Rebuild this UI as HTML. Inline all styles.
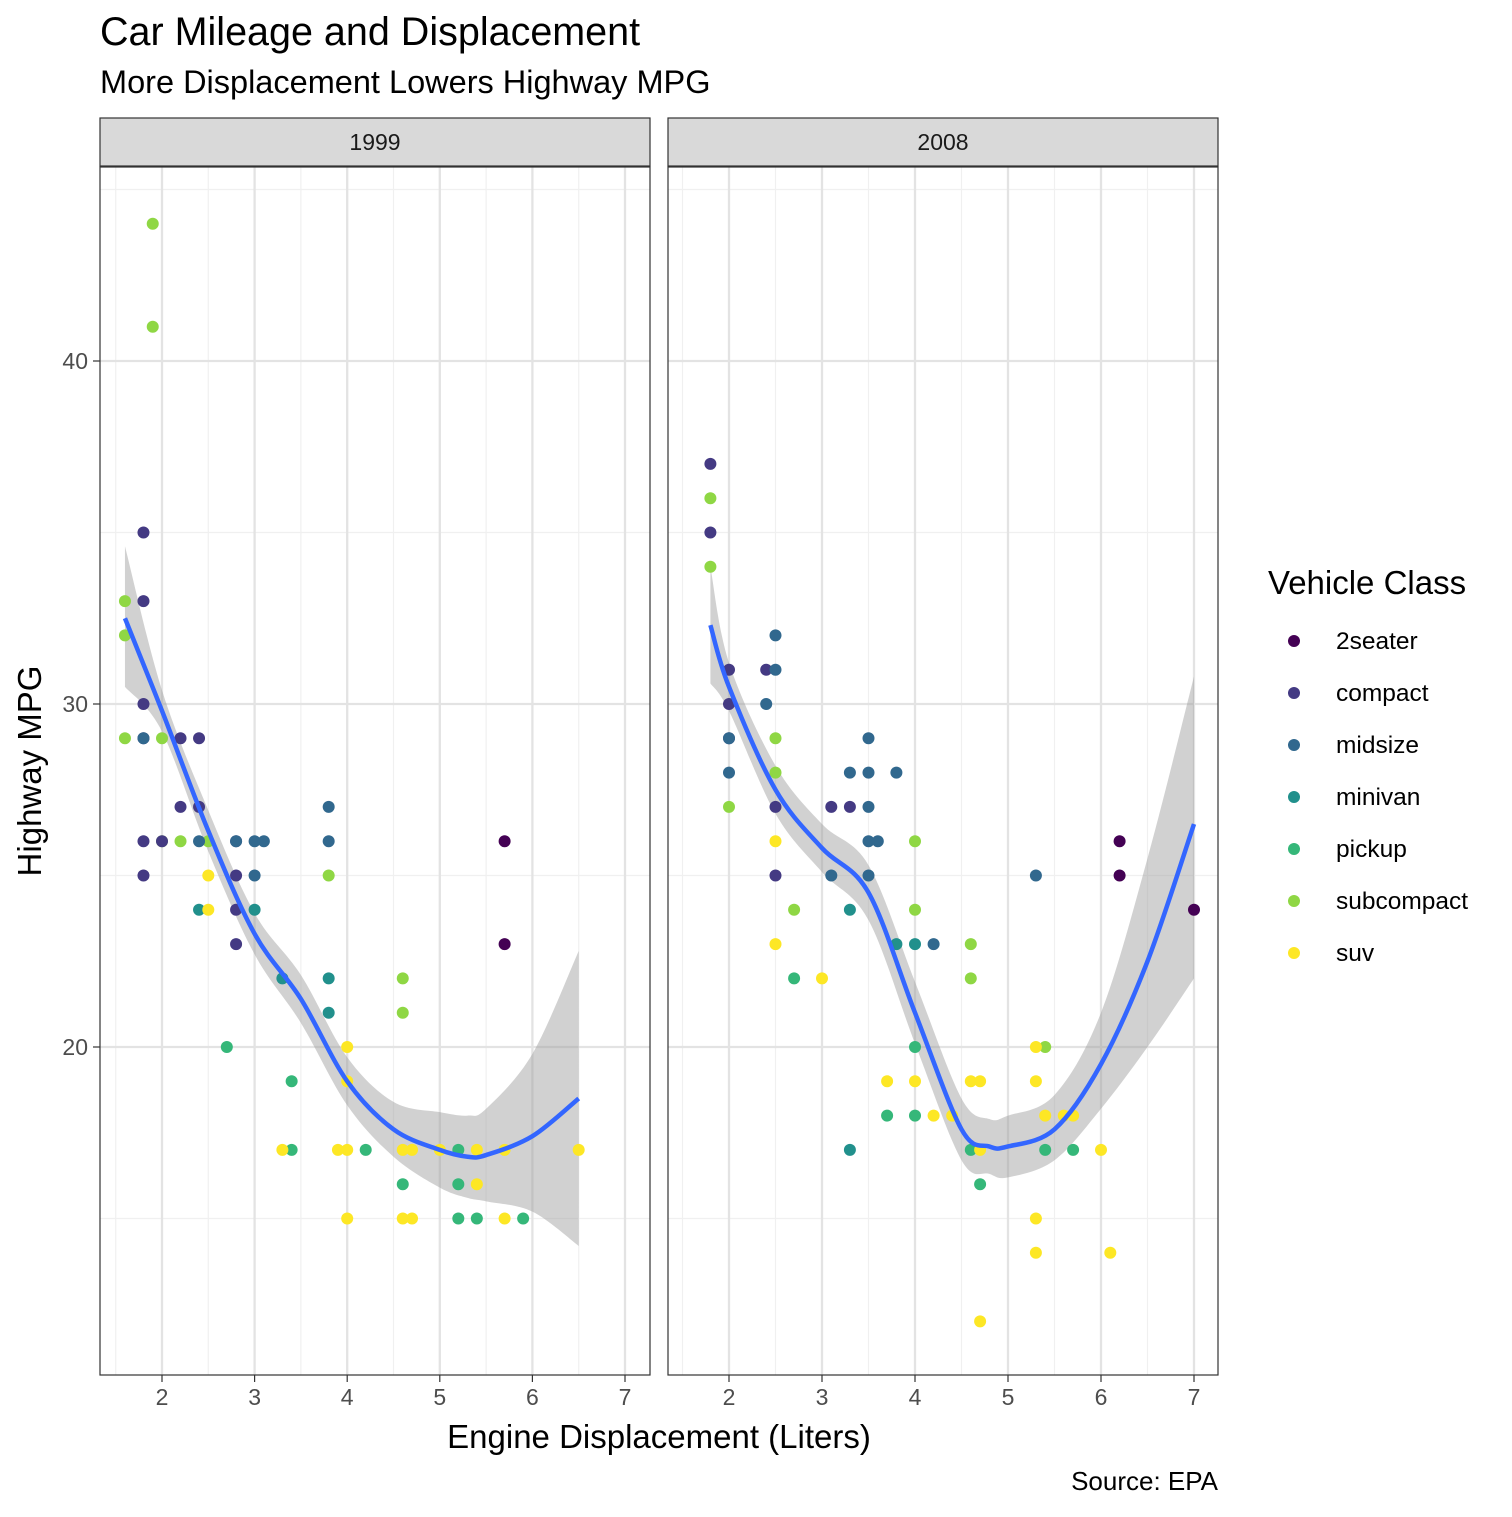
<!DOCTYPE html>
<html><head><meta charset="utf-8"><style>
body{margin:0;background:#fff;}
svg text{font-family:"Liberation Sans",Arial,sans-serif;}
</style></head><body>
<svg id="c" width="1512" height="1512" xmlns="http://www.w3.org/2000/svg">
<rect width="1512" height="1512" fill="#fff"/>
<text x="100" y="45" font-size="39.5" fill="#000">Car Mileage and Displacement</text>
<text x="100" y="93" font-size="32.5" fill="#000">More Displacement Lowers Highway MPG</text>
<text x="659" y="1448" font-size="33" text-anchor="middle">Engine Displacement (Liters)</text>
<text transform="translate(41,771) rotate(-90)" font-size="33" text-anchor="middle">Highway MPG</text>
<text x="1218" y="1490" font-size="26" text-anchor="end">Source: EPA</text>
<g id="g"></g>
</svg>
<script>
const classes=["2seater","compact","midsize","minivan","pickup","subcompact","suv"];
const colors=["#440154","#443A83","#31688E","#21908C","#35B779","#8FD744","#FDE725"];
const years=["1999","2008"];
const xTicks=[2,3,4,5,6,7];
const yTicks=[20,30,40];
// points [displ, hwy, classIndex]
const pts1999=[[1.6,33,5],[1.6,32,5],[1.6,29,5],[1.9,44,5],[1.9,41,5],[2.0,29,5],[2.0,26,5],[2.2,26,5],[2.5,26,5],[3.8,25,5],[4.6,22,5],[4.6,21,5],
[1.8,35,1],[1.8,33,1],[1.8,30,1],[1.8,29,1],[1.8,26,1],[1.8,25,1],[2.2,29,1],[2.4,29,1],[2.2,27,1],[2.4,27,1],[2.8,25,1],[2.8,24,1],[2.8,23,1],[2.8,26,1],[2.0,26,1],
[1.8,29,2],[2.4,26,2],[2.8,26,2],[3.0,26,2],[3.1,26,2],[3.0,25,2],[3.8,27,2],[3.8,26,2],
[2.4,24,3],[3.0,24,3],[3.3,22,3],[3.8,22,3],[3.8,21,3],
[2.7,20,4],[3.4,19,4],[3.4,17,4],[4.2,17,4],[4.6,16,4],[5.2,15,4],[5.4,15,4],[5.9,15,4],[5.2,17,4],[5.2,16,4],
[2.5,25,6],[2.5,24,6],[3.3,17,6],[3.9,17,6],[4.0,17,6],[4.0,20,6],[4.0,19,6],[4.0,15,6],[4.6,17,6],[4.6,15,6],[4.7,15,6],[4.7,17,6],[5.0,17,6],[5.4,17,6],[5.4,16,6],[5.7,17,6],[5.7,15,6],[6.5,17,6],
[5.7,26,0],[5.7,23,0]];
const pts2008=[[1.8,37,1],[1.8,35,1],[2.0,31,1],[2.0,30,1],[2.0,29,1],[2.4,31,1],[2.5,27,1],[2.5,25,1],[3.1,27,1],[3.3,27,1],
[1.8,36,5],[1.8,34,5],[2.0,27,5],[2.5,29,5],[2.5,28,5],[2.7,24,5],[4.0,26,5],[4.0,24,5],[4.6,23,5],[4.6,22,5],[5.4,20,5],
[2.0,29,2],[2.0,28,2],[2.4,30,2],[2.5,32,2],[2.5,31,2],[3.3,28,2],[3.5,29,2],[3.5,28,2],[3.5,27,2],[3.5,26,2],[3.6,26,2],[3.8,28,2],[3.5,25,2],[4.2,23,2],[5.3,25,2],[3.1,25,2],
[3.3,24,3],[3.3,17,3],[3.8,23,3],[4.0,23,3],
[2.7,22,4],[3.7,18,4],[4.0,18,4],[4.0,20,4],[4.7,16,4],[4.6,17,4],[5.4,17,4],[5.7,17,4],
[2.5,26,6],[2.5,23,6],[3.0,22,6],[3.7,19,6],[4.0,19,6],[4.2,18,6],[4.4,18,6],[4.6,19,6],[4.7,19,6],[4.7,17,6],[4.7,12,6],[5.3,20,6],[5.3,19,6],[5.3,15,6],[5.3,14,6],[5.4,18,6],[5.6,18,6],[5.7,18,6],[6.0,17,6],[6.1,14,6],
[6.2,26,0],[6.2,25,0],[7.0,24,0]];
const fitX1999=[1.6,2.0,2.5,3.0,3.5,4.0,4.5,5.0,5.3,5.5,6.0,6.5];
const fitY1999=[32.5,29.8,26.3,23.3,21.4,19.0,17.6,17.0,16.8,16.85,17.4,18.5];
const fitLo1999=[30.5,29.2,25.7,22.7,20.7,18.3,16.8,15.9,15.6,15.5,15.2,14.2];
const fitHi1999=[34.6,30.4,26.9,23.9,22.1,19.7,18.4,18.1,18.0,18.2,19.8,22.8];
const fitX2008=[1.8,2.0,2.5,3.0,3.5,4.0,4.5,4.8,5.0,5.5,6.0,6.5,7.0];
const fitY2008=[32.3,30.5,27.5,25.8,24.5,21.0,17.6,17.1,17.1,17.6,19.5,22.5,26.5];
const fitLo2008=[30.6,29.8,26.8,25.1,23.7,20.1,16.7,16.3,16.2,16.7,18.2,20.0,22.0];
const fitHi2008=[34.0,31.2,28.2,26.5,25.3,21.9,18.5,17.9,18.0,18.6,21.0,25.5,30.8];

const NS="http://www.w3.org/2000/svg";
const g=document.getElementById('g');
function el(t,a,p){const e=document.createElementNS(NS,t);for(const k in a)e.setAttribute(k,a[k]);(p||g).appendChild(e);return e;}
function smooth(P,move){
  let d=(move?'M':'L')+P[0][0]+','+P[0][1];
  for(let i=0;i<P.length-1;i++){
    const p0=P[Math.max(0,i-1)],p1=P[i],p2=P[i+1],p3=P[Math.min(P.length-1,i+2)];
    const c1=[p1[0]+(p2[0]-p0[0])/6,p1[1]+(p2[1]-p0[1])/6];
    const c2=[p2[0]-(p3[0]-p1[0])/6,p2[1]-(p3[1]-p1[1])/6];
    d+='C'+c1[0]+','+c1[1]+' '+c2[0]+','+c2[1]+' '+p2[0]+','+p2[1];
  }
  return d;
}
const yTop=167,yBot=1375;
const yS=v=>704-(v-30)*34.3;
const panels=[{x0:100,x1:650,ox:162,pts:pts1999,fx:fitX1999,fy:fitY1999,lo:fitLo1999,hi:fitHi1999,k:92.6},
{x0:668,x1:1218,ox:729,pts:pts2008,fx:fitX2008,fy:fitY2008,lo:fitLo2008,hi:fitHi2008,k:93}];
panels.forEach((p,i)=>{
  const xS=v=>p.ox+(v-2)*p.k;
  const pg=el('g',{});
  
  
  const st=el('rect',{x:p.x0,y:118,width:p.x1-p.x0,height:48,fill:'#d9d9d9',stroke:'#333','stroke-width':1.2},pg);
  
  
  const sl=el('text',{x:(p.x0+p.x1)/2,y:150,'font-size':23,'text-anchor':'middle',fill:'#1a1a1a'},pg);sl.textContent=years[i];
  
  
  [15,25,35,45].forEach(v=>el('line',{x1:p.x0,x2:p.x1,y1:yS(v),y2:yS(v),stroke:'#f0f0f0','stroke-width':1.2},pg));
  [1.5,2.5,3.5,4.5,5.5,6.5].forEach(v=>el('line',{x1:xS(v),x2:xS(v),y1:yTop,y2:yBot,stroke:'#f0f0f0','stroke-width':1.2},pg));
  yTicks.forEach(v=>el('line',{x1:p.x0,x2:p.x1,y1:yS(v),y2:yS(v),stroke:'#e3e3e3','stroke-width':2.3},pg));
  xTicks.forEach(v=>el('line',{x1:xS(v),x2:xS(v),y1:yTop,y2:yBot,stroke:'#e3e3e3','stroke-width':2.3},pg));
  const hiP=p.fx.map((x,j)=>[xS(x),yS(p.hi[j])]);
  const loP=p.fx.map((x,j)=>[xS(x),yS(p.lo[j])]).reverse();
  const rb=el('path',{d:smooth(hiP,true)+smooth(loP,false)+'Z',fill:'#999','fill-opacity':0.45},pg);
  
  
  p.pts.forEach(q=>{const c=el('circle',{cx:xS(q[0]),cy:yS(q[1]),r:6,fill:colors[q[2]]},pg);
    
    });
  const ln=el('path',{d:smooth(p.fx.map((x,j)=>[xS(x),yS(p.fy[j])]),true),fill:'none',stroke:'#3366FF','stroke-width':4.5,'stroke-linejoin':'round'},pg);
  
  
  el('rect',{x:p.x0,y:yTop,width:p.x1-p.x0,height:yBot-yTop,fill:'none',stroke:'#333','stroke-width':1.2},pg);
  xTicks.forEach(v=>{el('line',{x1:xS(v),x2:xS(v),y1:yBot,y2:yBot+7,stroke:'#333','stroke-width':1.2},pg);
    const t=el('text',{x:xS(v),y:yBot+30,'font-size':23,'text-anchor':'middle',fill:'#4d4d4d'},pg);t.textContent=v;
    
    });
  if(i==0)yTicks.forEach(v=>{el('line',{x1:93,x2:100,y1:yS(v),y2:yS(v),stroke:'#333','stroke-width':1.2},pg);
    const t=el('text',{x:88,y:yS(v)+8,'font-size':23,'text-anchor':'end',fill:'#4d4d4d'},pg);t.textContent=v;
    
    });
});
const lt=el('text',{x:1268,y:594,'font-size':33});lt.textContent='Vehicle Class';


classes.forEach((c,i)=>{const y=641+i*52;
  const lg=el('g',{});
  
  
  el('circle',{cx:1294,cy:y,r:6,fill:colors[i]},lg);
  const t=el('text',{x:1336,y:y+8,'font-size':24.5},lg);t.textContent=c;});
</script>
</body></html>
